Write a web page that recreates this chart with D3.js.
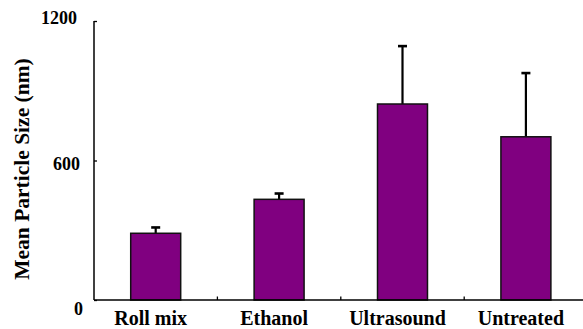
<!DOCTYPE html>
<html>
<head>
<meta charset="utf-8">
<script src="https://cdn.jsdelivr.net/npm/d3@7"></script>
<style>
  body { margin: 0; background: #fff; }
</style>
</head>
<body>
<div id="chart"></div>
<script>
const categories = ["Roll mix", "Ethanol", "Ultrasound", "Untreated"];
const means = [287, 433, 843, 702];
const errors = [25, 25, 249, 274];
const yTicks = [0, 600, 1200];

const width = 583;
const height = 329;
const serif = "'Times New Roman', 'Liberation Serif', 'DejaVu Serif', serif";

const svg = d3.select("#chart")
  .append("svg")
  .attr("width", width)
  .attr("height", height)
  .attr("font-family", serif)
  .attr("font-weight", "bold");

// axis frame
const plotLeft = 94, plotTop = 21, plotBottom = 300, bandW = 123.4;

const xScale = d3.scaleBand()
  .domain(categories)
  .range([plotLeft, plotLeft + bandW * categories.length]);

const yScale = d3.scaleLinear().domain([0, 1200]).range([plotBottom, plotTop]);

// tick labels in the original sit a bit off their ticks
const labelY = d3.scaleLinear().domain([0, 1200]).range([315, 24]);
const labelX = d3.scaleLinear().domain([0, 1200]).range([83, 77]);

const barW = xScale.bandwidth() * 0.405;

// error bars (upper only)
const errG = svg.append("g").attr("stroke", "#000");
errG.selectAll("line.err")
  .data(categories)
  .join("line")
  .attr("class", "err")
  .attr("x1", d => xScale(d) + xScale.bandwidth() / 2)
  .attr("x2", d => xScale(d) + xScale.bandwidth() / 2)
  .attr("y1", (d, i) => yScale(means[i]))
  .attr("y2", (d, i) => yScale(means[i] + errors[i]))
  .attr("stroke-width", 2.2);
errG.selectAll("line.cap")
  .data(categories)
  .join("line")
  .attr("class", "cap")
  .attr("x1", d => xScale(d) + xScale.bandwidth() / 2 - 4.5)
  .attr("x2", d => xScale(d) + xScale.bandwidth() / 2 + 4.5)
  .attr("y1", (d, i) => yScale(means[i] + errors[i]))
  .attr("y2", (d, i) => yScale(means[i] + errors[i]))
  .attr("stroke-width", 2.6);

// bars
svg.append("g")
  .selectAll("rect")
  .data(categories)
  .join("rect")
  .attr("x", d => xScale(d) + (xScale.bandwidth() - barW) / 2)
  .attr("y", (d, i) => yScale(means[i]))
  .attr("width", barW)
  .attr("height", (d, i) => yScale(0) - yScale(means[i]))
  .attr("fill", "#800080")
  .attr("stroke", "#111")
  .attr("stroke-width", 1.5);

// y axis
const yAxis = d3.axisRight(yScale).tickValues(yTicks).tickSize(3).tickFormat("");
const yG = svg.append("g")
  .attr("transform", `translate(${plotLeft}, 0)`)
  .call(yAxis);
yG.select(".domain").attr("d", `M0,${plotTop}V${plotBottom}`).attr("stroke-width", 1.5);
yG.selectAll(".tick line").attr("stroke-width", 1.3);

svg.append("g")
  .selectAll("text")
  .data(yTicks)
  .join("text")
  .attr("x", d => labelX(d))
  .attr("y", d => labelY(d))
  .attr("text-anchor", "end")
  .attr("font-size", 18)
  .text(d => d);

// x axis
const xAxis = d3.axisTop(xScale).tickSize(0).tickFormat("");
const xG = svg.append("g")
  .attr("transform", `translate(0, ${plotBottom})`)
  .call(xAxis);
xG.select(".domain").attr("d", `M${plotLeft},0H${width + 10}`).attr("stroke-width", 1.5);
xG.selectAll(".tick").remove();

// separators between categories
svg.append("g")
  .selectAll("line")
  .data(categories.slice(1))
  .join("line")
  .attr("x1", d => xScale(d))
  .attr("x2", d => xScale(d))
  .attr("y1", plotBottom)
  .attr("y2", plotBottom - 3.5)
  .attr("stroke", "#000")
  .attr("stroke-width", 1.3);

svg.append("g")
  .selectAll("text")
  .data(categories)
  .join("text")
  .attr("x", d => xScale(d) + xScale.bandwidth() / 2 - 5)
  .attr("y", 325)
  .attr("text-anchor", "middle")
  .attr("font-size", 20)
  .text(d => d);

// y axis title
svg.append("text")
  .attr("transform", `translate(29, 169) rotate(-90)`)
  .attr("text-anchor", "middle")
  .attr("font-size", 21.5)
  .text("Mean Particle Size (nm)");
</script>
</body>
</html>
